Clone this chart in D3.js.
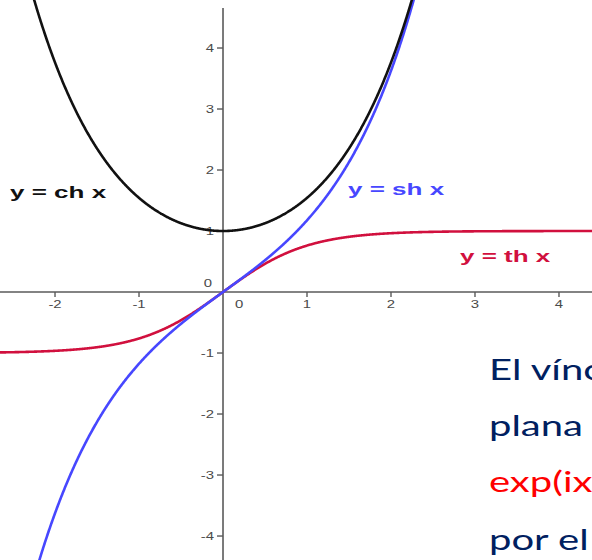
<!DOCTYPE html>
<html>
<head>
<meta charset="utf-8">
<script src="https://cdn.jsdelivr.net/npm/d3@7"></script>
<style>
  html, body { margin: 0; padding: 0; background: #fff; overflow: hidden; }
  svg { display: block; }
</style>
</head>
<body>
<script>
// Hyperbolic functions plotted on a shared pair of axes
const xTicks = [-2, -1, 1, 2, 3, 4];
const yTicks = [-4, -3, -2, -1, 1, 2, 3, 4];
const curveNames = ["ch", "sh", "th"];
const curveFns = [Math.cosh, Math.sinh, Math.tanh];
const curveLabels = ["y = ch x", "y = sh x", "y = th x"];
const noteLines = ["El vínculo", "plana", "exp(ix)", "por el"];

const W = 592, H = 560;
const xDomain = [-2.655, 4.393];
const yDomain = [-4.393, 4.787];

const svg = d3.select("body").append("svg").attr("width", W).attr("height", H);

const x = d3.scaleLinear().domain(xDomain).range([0, W]);
const y = d3.scaleLinear().domain(yDomain).range([H, 0]);

const stretch = 1.42;
const axisColor = "#5a5a5a";
const tickText = "#4a4a4a";

// x axis
svg.append("line")
  .attr("x1", 0).attr("x2", W)
  .attr("y1", y(0)).attr("y2", y(0))
  .attr("stroke", axisColor).attr("stroke-width", 1.6);
// y axis
svg.append("line")
  .attr("x1", x(0)).attr("x2", x(0))
  .attr("y1", 8).attr("y2", H)
  .attr("stroke", axisColor).attr("stroke-width", 1.6);

// x ticks
const xt = svg.append("g");
xTicks.forEach(v => {
  xt.append("line")
    .attr("x1", x(v)).attr("x2", x(v))
    .attr("y1", y(0)).attr("y2", y(0) + 5)
    .attr("stroke", axisColor).attr("stroke-width", 1.4);
  xt.append("text")
    .attr("transform", `translate(${x(v)},${y(0) + 16}) scale(${stretch},1)`)
    .attr("text-anchor", "middle")
    .attr("font-family", "Liberation Sans, Arial, sans-serif")
    .attr("font-size", 10.5)
    .attr("fill", tickText)
    .text(v);
});

// y ticks
const yt = svg.append("g");
yTicks.forEach(v => {
  yt.append("line")
    .attr("x1", x(0) - 6).attr("x2", x(0))
    .attr("y1", y(v)).attr("y2", y(v))
    .attr("stroke", axisColor).attr("stroke-width", 1.4);
  yt.append("text")
    .attr("transform", `translate(${x(0) - 9},${y(v) + 4}) scale(${stretch},1)`)
    .attr("text-anchor", "end")
    .attr("font-family", "Liberation Sans, Arial, sans-serif")
    .attr("font-size", 10.5)
    .attr("fill", tickText)
    .text(v);
});

// origin labels
[[x(0) - 11, y(0) - 5, "end"], [x(0) + 12, y(0) + 16, "start"]].forEach(([tx, ty, anchor]) => {
  svg.append("text")
    .attr("transform", `translate(${tx},${ty}) scale(${stretch},1)`)
    .attr("text-anchor", anchor)
    .attr("font-family", "Liberation Sans, Arial, sans-serif")
    .attr("font-size", 10.5)
    .attr("fill", tickText)
    .text(0);
});

// curves
const curveColor = { ch: "#111111", sh: "#4747ff", th: "#d1103e" };
const xs = d3.range(1400).map(i => xDomain[0] + (xDomain[1] - xDomain[0]) * i / 1399);
svg.append("clipPath").attr("id", "plot")
  .append("rect").attr("x", 0).attr("y", 0).attr("width", W).attr("height", H);

const line = d3.line().x(d => x(d[0])).y(d => y(d[1]));
const order = ["th", "sh", "ch"];
order.forEach(name => {
  const i = curveNames.indexOf(name);
  const pts = xs.map(v => [v, curveFns[i](v)]).filter(d => d[1] > -6 && d[1] < 6);
  svg.append("path")
    .attr("d", line(pts))
    .attr("clip-path", "url(#plot)")
    .attr("fill", "none")
    .attr("stroke", curveColor[name])
    .attr("stroke-width", 2.6)
    .attr("stroke-linejoin", "round");
});

// curve labels
const labelPos = { ch: [10, 198], sh: [348, 195], th: [460, 262] };
curveNames.forEach((name, i) => {
  svg.append("text")
    .attr("transform", `translate(${labelPos[name][0]},${labelPos[name][1]}) scale(1.53,1)`)
    .attr("font-family", "Liberation Sans, Arial, sans-serif")
    .attr("font-weight", "bold")
    .attr("font-size", 17)
    .attr("fill", curveColor[name])
    .text(curveLabels[i]);
});

// accompanying note text
const noteColor = ["#002060", "#002060", "#ff0000", "#002060"];
const noteBase = [380, 436, 492, 550];
noteLines.forEach((t, i) => {
  svg.append("text")
    .attr("transform", `translate(489,${noteBase[i]}) scale(1.38,1)`)
    .attr("font-family", "Lato, 'Open Sans', sans-serif")
    .attr("font-size", 29)
    .attr("fill", noteColor[i])
    .text(t);
});
</script>
</body>
</html>
